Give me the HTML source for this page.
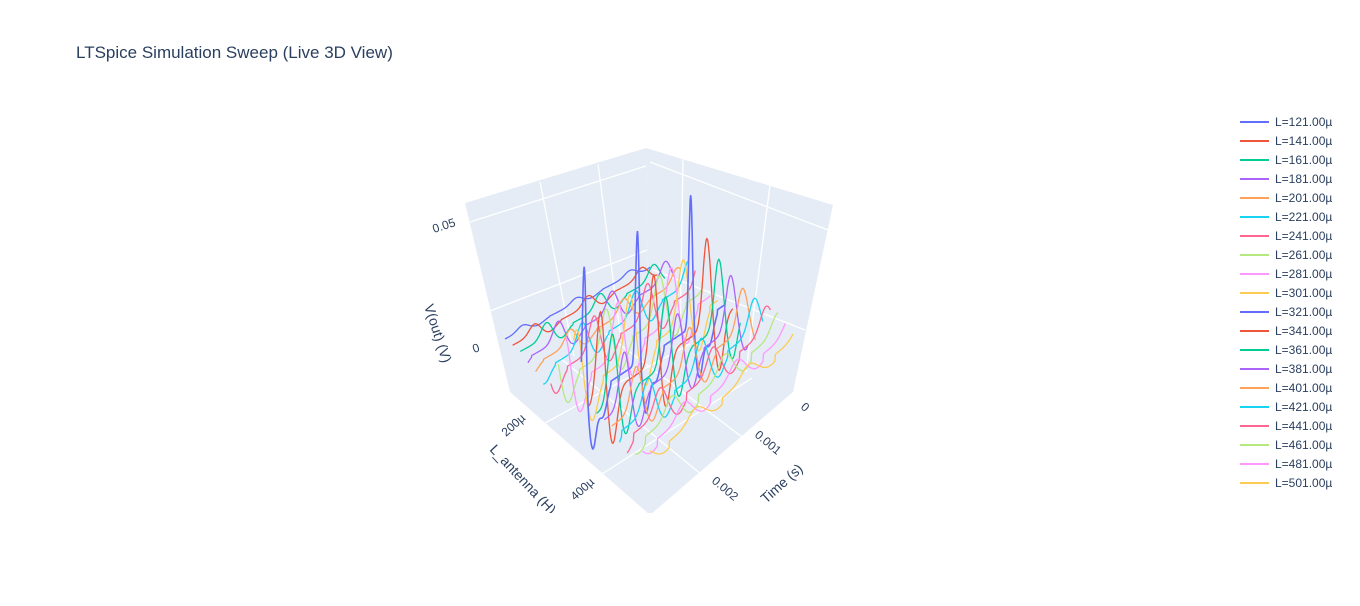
<!DOCTYPE html>
<html><head><meta charset="utf-8"><style>
body{margin:0;background:#fff;width:1360px;height:601px;overflow:hidden;font-family:"Liberation Sans","DejaVu Sans",sans-serif}
svg text{font-family:"Liberation Sans","DejaVu Sans",sans-serif;fill:#2a3f5f}
</style></head><body>
<svg id="s" width="1360" height="601" xmlns="http://www.w3.org/2000/svg">
<text x="76" y="58" font-size="17">LTSpice Simulation Sweep (Live 3D View)</text>
<defs><clipPath id="c"><rect x="0" y="0" width="1360" height="513"/></clipPath></defs>
<g clip-path="url(#c)">
<polygon points="465,203 646,148 648,318 510,392" fill="#e5ecf6"/>
<polygon points="646,148 833,205 793,392 648,318" fill="#e5ecf6"/>
<polygon points="510,392 648,318 793,392 650,515" fill="#e5ecf6"/>
<g stroke="#fff" stroke-width="1.3" fill="none">
<line x1="540" y1="182" x2="574" y2="356"/>
<line x1="598" y1="164" x2="620" y2="332"/>
<line x1="470" y1="222" x2="646" y2="166"/>
<line x1="490" y1="311" x2="647" y2="250"/>
<line x1="683" y1="159" x2="680" y2="336"/>
<line x1="770" y1="185" x2="746" y2="372"/>
<line x1="650" y1="162" x2="828" y2="230"/>
<line x1="648" y1="268" x2="805" y2="330"/>
<line x1="545" y1="423" x2="690" y2="344"/>
<line x1="602" y1="474" x2="752" y2="378"/>
<line x1="560" y1="358" x2="708" y2="480"/>
<line x1="606" y1="334" x2="750" y2="443"/>
</g>
<g id="tr" fill="none" stroke-width="1.3"></g>
<text font-size="14" transform="translate(489,450) rotate(47)">L_antenna (H)</text>
</g>
<text x="0" y="0" font-size="12" transform="translate(434,233) rotate(-18)">0.05</text>
<text x="0" y="0" font-size="12" transform="translate(474,353) rotate(-18)">0</text>
<text font-size="12" transform="translate(506,437) rotate(-42)">200µ</text>
<text font-size="12" transform="translate(575,501) rotate(-42)">400µ</text>
<text font-size="12" transform="translate(800,408) rotate(40)">0</text>
<text font-size="12" transform="translate(754,436) rotate(40)">0.001</text>
<text font-size="12" transform="translate(711,482) rotate(40)">0.002</text>
<text font-size="14" transform="translate(424,306) rotate(72)">V(out) (V)</text>
<text font-size="14" transform="translate(766,504) rotate(-42)">Time (s)</text>
<g id="lg" font-size="12"></g>
</svg>
<script>
var C=["#636efa","#EF553B","#00cc96","#ab63fa","#FFA15A","#19d3f3","#FF6692","#B6E880","#FF97FF","#FECB52"];
var ns="http://www.w3.org/2000/svg",tr=document.getElementById("tr"),lg=document.getElementById("lg");
function L(a,b,f){return a+(b-a)*f}
function g(x,w){return Math.exp(-(x*x)/(w*w))}
for(var i=0;i<20;i++){
 var f=i/19,sx=L(505,650,f),sy=L(339,457,f),ex=L(650,793,f),ey=L(265,340,f);
 var d="",P=0.37;
 for(var k=0;k<=300;k++){
  var t=k/300,v=0;
  if(i==10){var p=((t-0.02+P*10)%P);if(p>P/2)p-=P;v=0.055*g(p,0.018)-0.022*g(p-0.06,0.035)-0.012*g(p-0.13,0.04);}
  else{
   var A,sh,w;
   if(i>10){A=0.036*Math.exp(-(i-11)/4);sh=0.03*(i-10);w=0.035+0.004*(i-10);}
   else{A=i<4?0.002*(i+1):0.006+0.004*(i-4);sh=-0.03*(10-i);w=0.05;}
   var p=((t-0.05-sh+P*20)%P);if(p>P/2)p-=P;
   v=A*(g(p,w)-0.6*g(p-2.2*w,w*1.1));
  }
  var x=L(sx,ex,t),y=L(sy,ey,t)-v*2460;
  d+=(k?"L":"M")+x.toFixed(1)+","+y.toFixed(1);
 }
 var pa=document.createElementNS(ns,"path");pa.setAttribute("d",d);pa.setAttribute("stroke",C[i%10]);
 if(i==10)pa.setAttribute("stroke-width","1.6");
 tr.appendChild(pa);
 var y=122+i*19;
 var l=document.createElementNS(ns,"line");l.setAttribute("x1",1240);l.setAttribute("x2",1269);l.setAttribute("y1",y);l.setAttribute("y2",y);l.setAttribute("stroke",C[i%10]);l.setAttribute("stroke-width",2);lg.appendChild(l);
 var tx=document.createElementNS(ns,"text");tx.setAttribute("x",1275);tx.setAttribute("y",y+4);tx.textContent="L="+(121+i*20)+".00µ";lg.appendChild(tx);
}
</script>
</body></html>
